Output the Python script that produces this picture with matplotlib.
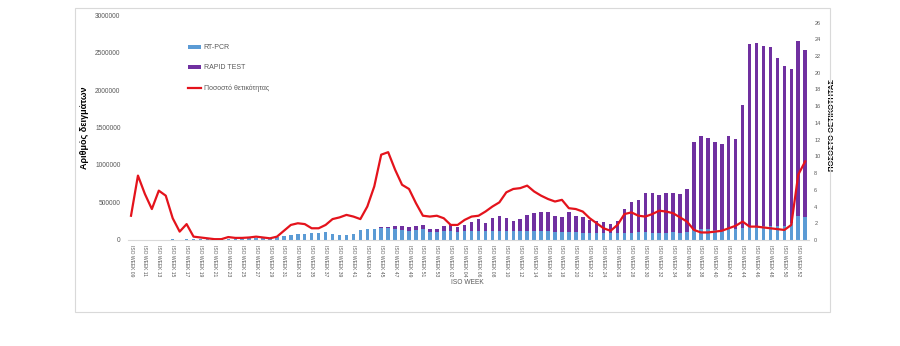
import matplotlib.pyplot as plt
from matplotlib.patches import Patch, Rectangle
from matplotlib.lines import Line2D
import numpy as np

# ISO weeks: 2020 w09-w53, 2021 w01-w52, 2022 w01
weeks = list(range(9, 54)) + list(range(1, 53)) + [1]

rt_pcr = [
    1500, 2500, 3500, 4500, 5500, 6000, 6500, 6000, 7000, 8000,
    9000, 10000, 11000, 12000, 14000, 16000, 18000, 20000, 23000, 26000,
    29000, 36000, 57000, 71000, 76000, 80000, 90000, 92000, 102000, 80000,
    66000, 66000, 80000, 130000, 146000, 146000, 165000, 160000, 140000, 135000,
    125000, 130000, 140000, 110000, 100000, 115000, 120000, 105000, 115000, 120000,
    122000, 118000, 120000, 122000, 118000, 115000, 118000, 120000, 122000, 120000,
    118000, 110000, 100000, 105000, 100000, 98000, 95000, 92000, 90000, 88000,
    92000, 95000, 98000, 100000, 100000, 98000, 95000, 98000, 100000, 98000,
    105000, 135000, 140000, 140000, 135000, 135000, 140000, 140000, 160000, 180000,
    185000, 185000, 190000, 185000, 190000, 220000, 320000, 310000,
]

rapid_test = [
    0, 0, 0, 0, 0, 0, 0, 0, 0, 0,
    0, 0, 0, 0, 0, 0, 0, 0, 0, 0,
    0, 0, 0, 0, 0, 0, 0, 0, 0, 0,
    0, 0, 0, 0, 0, 0, 3000, 12000, 41000, 46000,
    43000, 51000, 59000, 36000, 46000, 66000, 79000, 63000, 90000, 125000,
    157000, 108000, 168000, 196000, 170000, 142000, 161000, 212000, 236000, 256000,
    258000, 205000, 202000, 271000, 223000, 204000, 175000, 164000, 145000, 124000,
    163000, 320000, 407000, 435000, 528000, 524000, 502000, 524000, 528000, 512000,
    581000, 1165000, 1245000, 1220000, 1175000, 1150000, 1250000, 1210000, 1645000, 2440000,
    2445000, 2405000, 2380000, 2245000, 2130000, 2060000, 2340000, 2230000,
]

positivity = [
    2.9, 7.7, 5.5, 3.7, 5.9, 5.3, 2.6, 1.0, 1.9, 0.4,
    0.3, 0.2, 0.1, 0.1, 0.35, 0.25, 0.25, 0.3, 0.4, 0.3,
    0.2, 0.4, 1.1, 1.8, 2.0, 1.9, 1.4, 1.4, 1.8, 2.5,
    2.7, 3.0, 2.8, 2.5, 4.0, 6.4, 10.2, 10.5, 8.4, 6.6,
    6.1, 4.4, 2.9, 2.8, 2.9, 2.6, 1.8, 1.8, 2.4, 2.8,
    2.9, 3.4, 4.0, 4.5, 5.7, 6.1, 6.2, 6.5, 5.8, 5.3,
    4.9, 4.6, 4.8, 3.8, 3.7, 3.4, 2.6, 2.0, 1.4, 1.1,
    1.8, 3.1, 3.3, 2.9, 2.8, 3.1, 3.5, 3.4, 3.2, 2.7,
    2.2, 1.2, 0.9, 0.9, 1.0, 1.1, 1.4, 1.7, 2.2, 1.6,
    1.6, 1.5, 1.4, 1.3, 1.2, 1.8, 7.8, 9.4,
]

labels = ["ISO WEEK %02d" % w for w in weeks]

blue = "#5B9BD5"
purple = "#7030A0"
red = "#E4131C"
grey = "#595959"
font = "Liberation Sans"

plt.rcParams["font.family"] = font

fig = plt.figure(figsize=(9, 3.46), dpi=100)
ax = fig.add_axes([0.1417, 0.3064, 0.7568, 0.6502])

x = np.arange(len(weeks))
ax.bar(x, rt_pcr, width=0.5, color=blue, zorder=2)
ax.bar(x, rapid_test, width=0.5, bottom=rt_pcr, color=purple, zorder=2)

ax.set_xlim(-0.5, len(weeks) - 0.5)
ax.set_ylim(0, 3000000)
ax.set_yticks(np.arange(0, 3000001, 500000))
ax.set_yticklabels([str(v) for v in range(0, 3000001, 500000)])
ax.set_xticks(x[::2])
ax.set_xticklabels(labels[::2], rotation=-90, fontsize=3.6, color=grey)
ax.tick_params(axis="x", length=0, pad=3.5)
ax.tick_params(axis="y", length=0, pad=5, labelsize=4.8, labelcolor=grey)
for side in ["top", "right", "left"]:
    ax.spines[side].set_visible(False)
ax.spines["bottom"].set_color("#d9d9d9")
ax.spines["bottom"].set_linewidth(0.8)

ax.set_ylabel("Αριθμός δειγμάτων", fontsize=6.5, fontweight="bold", color="black")
ax.yaxis.set_label_coords(-0.056, 0.5)

ax2 = ax.twinx()
ax2.plot(x, positivity, color=red, linewidth=1.6, zorder=3)
ax2.set_ylim(0, 26.9)
ax2.set_yticks(np.arange(0, 27, 2))
ax2.tick_params(axis="y", length=0, pad=4, labelsize=4, labelcolor=grey)
for side in ["top", "right", "left", "bottom"]:
    ax2.spines[side].set_visible(False)
ax2.set_ylabel("ΠΟΣΟΣΤΟ ΘΕΤΙΚΟΤΗΤΑΣ", fontsize=5.5, fontweight="bold",
               color="black", rotation=90)
ax2.yaxis.set_label_coords(1.030, 0.51)

fig.text(467 / 900, 1 - 283 / 346, "ISO WEEK", fontsize=4.8, color=grey,
         ha="center", va="center")

handles = [
    Patch(facecolor=blue, edgecolor="none"),
    Patch(facecolor=purple, edgecolor="none"),
    Line2D([0], [0], color=red, linewidth=1.6),
]
fig.legend(handles, ["RT-PCR", "RAPID TEST", "Ποσοστό θετικότητας"],
           loc="upper left", bbox_to_anchor=(182 / 900, 1 - 38 / 346),
           frameon=False, fontsize=5, labelspacing=1.9, handlelength=1.9,
           handleheight=0.6, handletextpad=0.3, labelcolor=grey)

# light frame around the whole chart area
fig.add_artist(Rectangle((75 / 900, 1 - 312 / 346), 755 / 900, 304 / 346,
                         transform=fig.transFigure, fill=False,
                         edgecolor="#d9d9d9", linewidth=0.8))

fig.savefig("out.png", dpi=100)
